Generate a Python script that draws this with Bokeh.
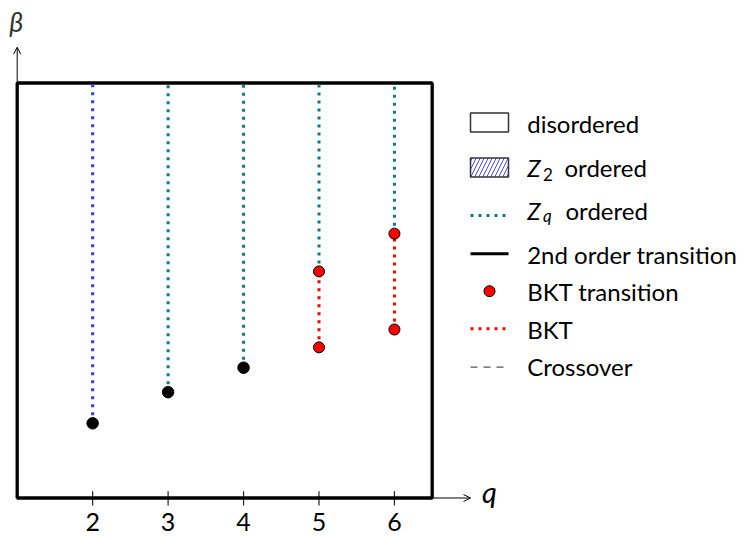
from bokeh.plotting import figure
from bokeh.models import Arrow, OpenHead
from bokeh.core.properties import value
from bokeh.embed import file_html
from bokeh.resources import INLINE

# ---------------- data ----------------
q_ticks = [2, 3, 4, 5, 6]
q_tick_labels = ["2", "3", "4", "5", "6"]

# second-order transition points (black dots)
q_second = [2, 3, 4]
beta_second = [0.180, 0.255, 0.314]

# BKT transition points (red dots): lower and upper
q_bkt = [5, 6]
beta_bkt_low = [0.363, 0.406]
beta_bkt_high = [0.546, 0.637]

beta_top = 1.0
q_box = (1.0, 6.5)
beta_box = (0.0, 1.0)

legend_labels = ["disordered", "Z2 ordered", "Zq ordered", "2nd order transition",
                 "BKT transition", "BKT", "Crossover"]

# ---------------- layout (window pixels -> data) ----------------
PX, X0PX = 75.45, 16.7     # px per unit q, window x of q=1
PY, Y0PX = 415.0, 497.5    # px per unit beta, window y of beta=0
W, H = 750, 537


def wx(px):
    return 1 + (px - X0PX) / PX


def wy(py):
    return (Y0PX - py) / PY


def mid(baseline_px, size):
    # centre of the text box for a given baseline (text_baseline="middle")
    return wy(baseline_px - 0.387 * size)


FONT = value("Lato")
BLUE = "#3535ff"
TEAL = "#008080"
RED = "#ff0000"
DOT = "3 5"
FS = 24

p = figure(width=W, height=H, x_range=(wx(0), wx(W)), y_range=(wy(H), wy(0)),
           output_backend="svg", toolbar_location=None, min_border=0,
           x_axis_location=None, y_axis_location=None, title=None)
p.grid.visible = False
p.outline_line_color = None
p.background_fill_color = "white"

# axis arrows
p.add_layout(Arrow(end=OpenHead(size=7, line_width=1, line_color="black"),
                   x_start=q_box[1], y_start=beta_box[0], x_end=wx(470), y_end=beta_box[0],
                   line_width=1, line_color="black"))
p.add_layout(Arrow(end=OpenHead(size=7, line_width=1, line_color="black"),
                   x_start=q_box[0], y_start=beta_box[1], x_end=q_box[0], y_end=wy(46.7),
                   line_width=1, line_color="black"))

# ticks
p.segment(x0=q_ticks, y0=[wy(490.7)] * len(q_ticks), x1=q_ticks, y1=[wy(505)] * len(q_ticks),
          line_color="#222222", line_width=1.2)
p.text(x=q_ticks, y=[mid(531.5, 25)] * len(q_ticks), text=q_tick_labels, text_font=FONT,
       text_font_size="25px", text_align="center", text_baseline="middle", text_color="black")

# box
p.quad(left=[q_box[0]], right=[q_box[1]], bottom=[beta_box[0]], top=[beta_box[1]],
       fill_color=None, line_color="black", line_width=3.3)

# axis labels
p.text(x=[wx(15.8)], y=[wy(21)], text=["β"], text_font=FONT, text_font_style="italic",
       text_font_size="27px", text_align="center", text_baseline="middle", text_color="#333333")
p.text(x=[wx(489)], y=[mid(502.5, 29)], text=["q"], text_font=FONT, text_font_style="italic",
       text_font_size="29px", text_align="center", text_baseline="middle", text_color="black")

# Z2 ordered (q=2) dotted line
p.segment(x0=q_second[:1], y0=beta_second[:1], x1=q_second[:1], y1=[beta_top],
          line_color=BLUE, line_width=3, line_dash=DOT)
# Zq ordered dotted lines
zq_x = q_second[1:] + q_bkt
zq_y0 = beta_second[1:] + beta_bkt_high
p.segment(x0=zq_x, y0=zq_y0, x1=zq_x, y1=[beta_top] * len(zq_x),
          line_color=TEAL, line_width=3, line_dash=DOT)
# BKT dotted lines
p.segment(x0=q_bkt, y0=beta_bkt_low, x1=q_bkt, y1=beta_bkt_high,
          line_color=RED, line_width=3, line_dash=DOT)

# points
p.scatter(x=q_second, y=beta_second, size=11.5, fill_color="black", line_color="black")
p.scatter(x=q_bkt * 2, y=beta_bkt_low + beta_bkt_high, size=11, fill_color=RED,
          line_color="black", line_width=1)

# ---------------- legend ----------------
row_c = [122, 167, 215, 253.3, 290.7, 328.3, 366.7]
row_b = [132, 176.7, 219.3, 263, 300, 338.3, 375]
gx0, gx1, tx = wx(470), wx(508), wx(526.7)
gxc = (gx0 + gx1) / 2

p.rect(x=[gxc], y=[wy(row_c[0])], width=38, height=19, width_units="screen",
       height_units="screen", fill_color="white", line_color="#333333", line_width=1.5)
p.rect(x=[gxc], y=[wy(row_c[1])], width=38, height=19, width_units="screen",
       height_units="screen", fill_color="white", line_color="#333333", line_width=1.5,
       hatch_pattern="/", hatch_color=BLUE, hatch_scale=8, hatch_weight=0.9)
p.segment(x0=[gx0], y0=[wy(row_c[2])], x1=[gx1], y1=[wy(row_c[2])],
          line_color=TEAL, line_width=3, line_dash=DOT)
p.segment(x0=[gx0], y0=[wy(row_c[3])], x1=[gx1], y1=[wy(row_c[3])],
          line_color="black", line_width=3)
p.scatter(x=[gxc], y=[wy(row_c[4])], size=11, fill_color=RED, line_color="black", line_width=1)
p.segment(x0=[gx0], y0=[wy(row_c[5])], x1=[gx1], y1=[wy(row_c[5])],
          line_color=RED, line_width=3, line_dash=DOT)
p.segment(x0=[gx0], y0=[wy(row_c[6])], x1=[gx1], y1=[wy(row_c[6])],
          line_color="#555555", line_width=1.2, line_dash="7 6")

plain_idx = [0, 3, 4, 5, 6]
p.text(x=[tx] * len(plain_idx), y=[mid(row_b[i], FS) for i in plain_idx],
       text=[legend_labels[i] for i in plain_idx], text_font=FONT, text_font_size=f"{FS}px",
       text_align="left", text_baseline="middle", text_color="black")
# Z_2 and Z_q with subscripts
p.text(x=[tx, tx], y=[mid(row_b[1], FS), mid(row_b[2], FS)], text=["Z", "Z"], text_font=FONT,
       text_font_style="italic", text_font_size=f"{FS}px", text_baseline="middle",
       text_color="black")
p.text(x=[wx(542.5)], y=[mid(row_b[1] + 3.5, 17)], text=[legend_labels[1][1]], text_font=FONT,
       text_font_size="17px", text_baseline="middle", text_color="black")
p.text(x=[wx(542.5)], y=[mid(row_b[2] + 2.5, 17)], text=[legend_labels[2][1]], text_font=FONT,
       text_font_style="italic", text_font_size="17px", text_baseline="middle",
       text_color="black")
p.text(x=[wx(564), wx(565)], y=[mid(row_b[1], FS), mid(row_b[2], FS)],
       text=[legend_labels[1][3:], legend_labels[2][3:]], text_font=FONT,
       text_font_size=f"{FS}px", text_baseline="middle", text_color="black")

open("out.html", "w").write(file_html(p, INLINE))
